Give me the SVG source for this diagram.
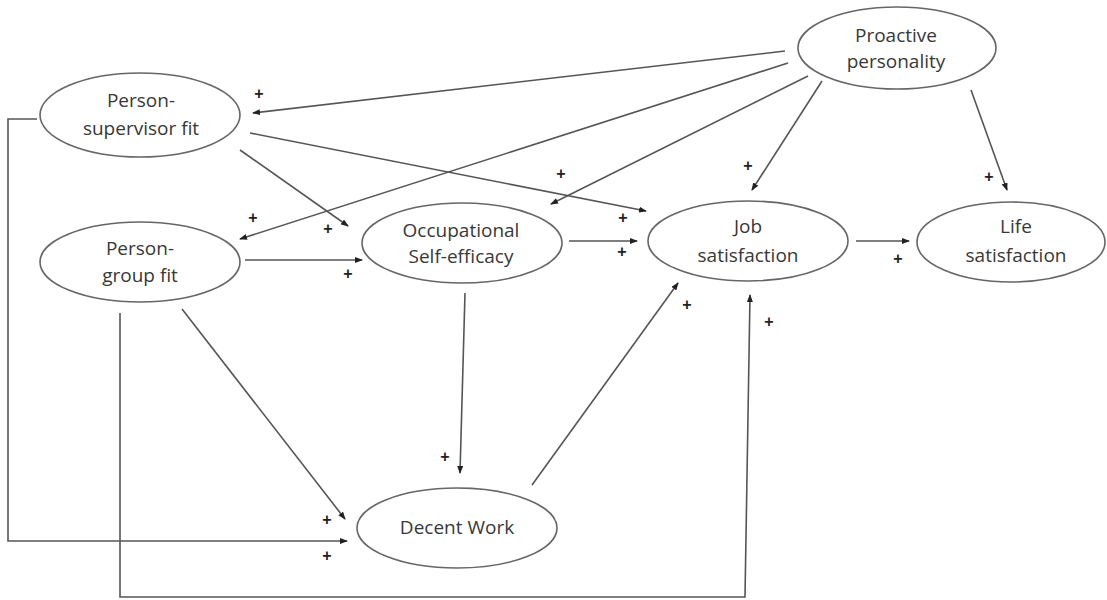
<svg xmlns="http://www.w3.org/2000/svg" width="1107" height="600" viewBox="0 0 1107 600">
<defs>
<marker id="ah" markerUnits="userSpaceOnUse" markerWidth="8" markerHeight="6" refX="7" refY="3" orient="auto">
<path d="M0,0 L8,3 L0,6 z" fill="#222"/>
</marker>
<style>
.n ellipse{fill:#fff;stroke:#666;stroke-width:1.6}
.n text{font-family:"Open Sans","Liberation Sans",sans-serif;font-size:19px;fill:#383838;text-anchor:middle}
#connectors line,#connectors polyline{fill:none;stroke:#555;stroke-width:1.6}
.a{marker-end:url(#ah)}
.p{font-family:"Liberation Sans",Arial,sans-serif;font-size:16px;font-weight:bold;fill:#222;text-anchor:middle}
</style>
</defs>
<rect width="1107" height="600" fill="#fff"/>
<g id="connectors">
<line class="a" x1="785" y1="51" x2="253" y2="113"/>
<line class="a" x1="788" y1="63" x2="240" y2="239"/>
<line class="a" x1="808" y1="76" x2="551" y2="204"/>
<line class="a" x1="822" y1="81" x2="752" y2="190"/>
<line class="a" x1="971" y1="90" x2="1007" y2="190"/>
<line class="a" x1="250" y1="133" x2="646" y2="211"/>
<line class="a" x1="240" y1="150" x2="348" y2="226"/>
<line class="a" x1="245" y1="260" x2="362" y2="260"/>
<line class="a" x1="569" y1="241" x2="637" y2="241"/>
<line class="a" x1="856" y1="241" x2="909" y2="241"/>
<line class="a" x1="465" y1="293" x2="460" y2="473"/>
<line class="a" x1="532" y1="485" x2="678" y2="283"/>
<line class="a" x1="182" y1="309" x2="345" y2="519"/>
<polyline class="a" points="37,119 8,119 8,541 347,541"/>
<polyline class="a" points="120,313 120,597 745,597 750,295"/>
<text class="p" x="259" y="99">+</text>
<text class="p" x="253" y="223">+</text>
<text class="p" x="561" y="179">+</text>
<text class="p" x="748" y="171">+</text>
<text class="p" x="989" y="182">+</text>
<text class="p" x="623" y="223">+</text>
<text class="p" x="328" y="234">+</text>
<text class="p" x="348" y="279">+</text>
<text class="p" x="622" y="257">+</text>
<text class="p" x="898" y="264">+</text>
<text class="p" x="445" y="462">+</text>
<text class="p" x="687" y="310">+</text>
<text class="p" x="769" y="327">+</text>
<text class="p" x="327" y="525">+</text>
<text class="p" x="327" y="561">+</text>
</g>
<g id="proactive" class="n">
<ellipse cx="897" cy="48" rx="99" ry="41"/>
<text x="896" y="42">Proactive</text>
<text x="896" y="68">personality</text>
</g>
<g id="psf" class="n">
<ellipse cx="140" cy="115" rx="100" ry="42"/>
<text x="141" y="107">Person-</text>
<text x="141" y="135">supervisor fit</text>
</g>
<g id="pgf" class="n">
<ellipse cx="140" cy="262" rx="100" ry="40"/>
<text x="140" y="255">Person-</text>
<text x="140" y="282">group fit</text>
</g>
<g id="ose" class="n">
<ellipse cx="462" cy="243" rx="100" ry="40"/>
<text x="461" y="237">Occupational</text>
<text x="461" y="263">Self-efficacy</text>
</g>
<g id="js" class="n">
<ellipse cx="748" cy="241" rx="100" ry="40"/>
<text x="748" y="233">Job</text>
<text x="748" y="262">satisfaction</text>
</g>
<g id="ls" class="n">
<ellipse cx="1011" cy="242" rx="94" ry="40"/>
<text x="1016" y="233">Life</text>
<text x="1016" y="262">satisfaction</text>
</g>
<g id="dw" class="n">
<ellipse cx="457" cy="528" rx="100" ry="40"/>
<text x="457" y="534">Decent Work</text>
</g>
</svg>
